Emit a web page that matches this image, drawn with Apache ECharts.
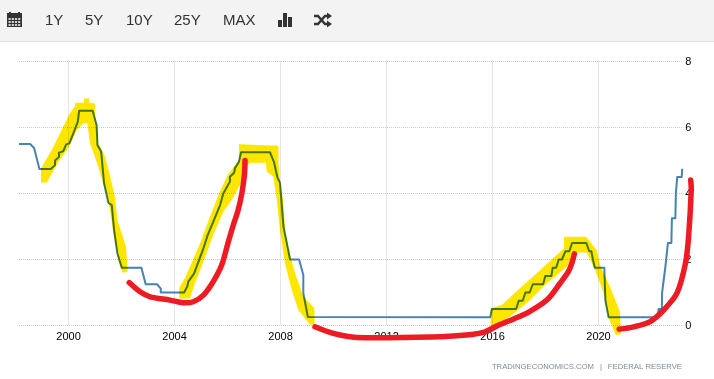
<!DOCTYPE html>
<html>
<head>
<meta charset="utf-8">
<style>html,body{margin:0;padding:0;background:#fff}#c{width:714px;height:379px}</style>
<script src="https://cdn.jsdelivr.net/npm/echarts@6/dist/echarts.min.js"></script>
</head>
<body>
<div id="c"></div>
<script>
const yearTicks = [2000, 2004, 2008, 2012, 2016, 2020];
const toolbarLabels = ['1Y', '5Y', '10Y', '25Y', 'MAX'];
const footerParts = ['TRADINGECONOMICS.COM', '|', 'FEDERAL RESERVE'];

const fedRate = [[1998.13,5.5],[1998.55,5.5],[1998.7,5.38],[1998.9,4.74],[1999.33,4.74],[1999.49,4.86],[1999.49,5],[1999.64,5.11],[1999.64,5.24],[1999.8,5.28],[1999.91,5.49],[2000.03,5.52],[2000.18,5.82],[2000.35,6.18],[2000.4,6.51],[2000.91,6.51],[2001.06,6.07],[2001.09,5.47],[2001.23,5.27],[2001.34,4.31],[2001.5,3.72],[2001.63,3.65],[2001.72,2.89],[2001.84,2.19],[2002.01,1.75],[2002.75,1.75],[2002.91,1.25],[2003.34,1.25],[2003.48,1.12],[2003.48,1],[2004.36,1],[2004.48,1.18],[2004.52,1.33],[2004.74,1.58],[2004.9,1.93],[2005.09,2.34],[2005.25,2.74],[2005.49,3.2],[2005.72,3.65],[2005.84,4],[2006.09,4.36],[2006.09,4.51],[2006.25,4.63],[2006.28,4.77],[2006.43,4.96],[2006.51,5.25],[2007.6,5.25],[2007.75,4.96],[2007.88,4.49],[2007.98,4.33],[2008.11,3],[2008.36,2],[2008.7,2],[2008.86,1.53],[2008.86,0.98],[2009.03,0.26],[2015.91,0.25],[2015.98,0.5],[2016.89,0.5],[2016.99,0.75],[2017.14,0.75],[2017.24,1],[2017.4,1],[2017.52,1.25],[2017.91,1.25],[2017.99,1.5],[2018.22,1.5],[2018.27,1.75],[2018.4,1.75],[2018.5,2],[2018.62,2],[2018.75,2.25],[2018.9,2.25],[2019,2.5],[2019.54,2.5],[2019.65,2.25],[2019.73,2.25],[2019.79,2],[2019.86,1.75],[2020.22,1.75],[2020.26,0.75],[2020.38,0.25],[2022.23,0.25],[2022.27,0.5],[2022.39,0.5],[2022.4,1],[2022.52,1.75],[2022.62,2.5],[2022.75,2.5],[2022.77,3.25],[2022.9,3.25],[2022.92,4],[2022.97,4.5],[2023.14,4.5],[2023.16,4.75]];

const yellowA = [[1998.96,4.33],[1998.96,4.76],[1999.43,5.42],[1999.75,5.95],[2000.03,6.4],[2000.25,6.65],[2000.25,6.75],[2000.58,6.75],[2000.58,6.88],[2000.78,6.88],[2000.78,6.75],[2001,6.73],[2001,6.33],[2001.1,5.98],[2001.12,5.52],[2001.38,5.12],[2001.57,4.51],[2001.75,3.9],[2001.84,3.2],[2001.97,2.89],[2002.17,2.39],[2002.23,1.63],[2002.03,1.6],[2001.88,1.98],[2001.69,2.79],[2001.57,3.5],[2001.38,4.11],[2001.12,4.81],[2000.81,5.52],[2000.71,6.13],[2000.56,6.13],[2000.31,5.92],[1999.99,5.37],[1999.62,4.96],[1999.18,4.33]];
const yellowB = [[2004.18,0.82],[2004.18,1.15],[2004.4,1.45],[2004.62,1.85],[2004.97,2.5],[2005.34,3.3],[2005.68,4],[2006,4.55],[2006.43,5.01],[2006.43,5.49],[2007.92,5.45],[2007.92,4.92],[2007.98,4.41],[2008.11,3.7],[2008.17,2.89],[2008.36,2.14],[2008.55,1.58],[2008.86,0.87],[2009.28,0.52],[2009.28,0.02],[2009.11,0.02],[2008.67,0.47],[2008.42,1.08],[2008.17,1.88],[2007.98,2.89],[2007.86,3.8],[2007.73,4.51],[2007.48,4.66],[2007.45,4.93],[2006.85,4.93],[2006.66,4.81],[2006.5,4.31],[2006.16,3.8],[2005.84,3.45],[2005.46,2.74],[2005.09,1.93],[2004.77,1.28],[2004.58,0.82]];
const yellowC = [[2015.93,-0.04],[2015.93,0.52],[2016.35,0.62],[2016.97,1.08],[2017.73,1.63],[2018.7,2.34],[2018.7,2.69],[2019.53,2.69],[2019.93,2.29],[2020.06,1.83],[2020.43,1.18],[2020.81,0.42],[2020.85,-0.26],[2020.66,-0.29],[2020.37,0.25],[2020.18,1.02],[2019.87,1.68],[2019.56,2.21],[2019.11,2.21],[2018.8,1.78],[2018.05,1.28],[2017.35,0.72],[2016.66,0.27],[2016.03,-0.04]];

const redA = [[2002.29,1.3],[2002.7,1.02],[2003.08,0.87],[2003.83,0.77],[2004.33,0.69],[2004.71,0.72],[2005.09,0.92],[2005.46,1.33],[2005.78,1.83],[2006,2.45],[2006.2,3],[2006.4,3.5],[2006.55,4.05],[2006.64,4.6],[2006.66,5]];
const redB = [[2009.3,-0.04],[2009.99,-0.24],[2010.88,-0.36],[2014.03,-0.34],[2015,-0.29],[2015.72,-0.19],[2016.2,0],[2016.8,0.2],[2017.35,0.4],[2018.05,0.77],[2018.55,1.28],[2018.86,1.63],[2019.01,1.93],[2019.09,2.17]];
const redC = [[2020.78,-0.11],[2021.33,-0.04],[2021.95,0.12],[2022.46,0.47],[2022.96,0.98],[2023.28,1.88],[2023.4,2.69],[2023.5,4.1],[2023.48,4.41]];

const YELLOW = '#ffe600', RED = '#ed1c24', BLUE = '#4682b4', ICON = '#333333';
const FONT = '"Liberation Sans", Arial, sans-serif';

const chart = echarts.init(document.getElementById('c'), null, {renderer: 'canvas'});

function redSeries(points) {
  return {
    type: 'custom', data: points, clip: false, z: 6, silent: true, encode: {x: 0, y: 1},
    renderItem(params, api) {
      if (params.dataIndex !== 0) return null;
      return {type: 'polyline',
        shape: {points: points.map(p => api.coord(p)), smooth: 0.3},
        style: {fill: null, stroke: RED, lineWidth: 5.5, lineCap: 'round', lineJoin: 'round'}};
    }
  };
}
function yellowSeries(points) {
  return {
    type: 'custom', data: points, clip: false, z: 4, silent: true, encode: {x: 0, y: 1},
    renderItem(params, api) {
      if (params.dataIndex !== 0) return null;
      return {type: 'polygon',
        shape: {points: points.map(p => api.coord(p))},
        style: {fill: YELLOW}};
    }
  };
}

const labelXs = [45, 85, 126, 174, 223];
const footerXs = [594, 601, 682];
const footerAligns = ['right', 'center', 'right'];
const toolbar = [
  {type: 'rect', shape: {x: 0, y: 0, width: 714, height: 41}, style: {fill: '#f3f3f3'}, silent: true},
  {type: 'rect', shape: {x: 0, y: 41, width: 714, height: 1}, style: {fill: '#e0e0e0'}, silent: true},
  ...toolbarLabels.map((t, i) => ({type: 'text', x: labelXs[i], y: 21,
    style: {text: t, fill: '#333', font: '15px ' + FONT, textAlign: 'left', textVerticalAlign: 'middle'}})),
  {type: 'rect', shape: {x: 7, y: 13, width: 15, height: 14}, style: {fill: ICON}},
  {type: 'rect', shape: {x: 9, y: 12, width: 2, height: 3}, style: {fill: ICON}},
  {type: 'rect', shape: {x: 18, y: 12, width: 2, height: 3}, style: {fill: ICON}},
  ...[0,1,2,3].flatMap(c => [0,1,2].map(r => ({type: 'rect',
    shape: {x: 8.5 + c * 3.2, y: 18 + r * 3, width: 2.2, height: 2}, style: {fill: '#cfcfcf'}}))),
  {type: 'rect', shape: {x: 278, y: 20, width: 4, height: 7}, style: {fill: ICON}},
  {type: 'rect', shape: {x: 283, y: 13, width: 4, height: 14}, style: {fill: ICON}},
  {type: 'rect', shape: {x: 288, y: 17, width: 4, height: 10}, style: {fill: ICON}},
  {type: 'polyline', shape: {points: [[314,16],[318,16],[325,24],[329,24]]}, style: {stroke: ICON, lineWidth: 2.4, fill: null}},
  {type: 'polyline', shape: {points: [[314,24],[318,24],[325,16],[329,16]]}, style: {stroke: ICON, lineWidth: 2.4, fill: null}},
  {type: 'polygon', shape: {points: [[327,12.5],[332,16],[327,19.5]]}, style: {fill: ICON}},
  {type: 'polygon', shape: {points: [[327,20.5],[332,24],[327,27.5]]}, style: {fill: ICON}},
  ...footerParts.map((t, i) => ({type: 'text', x: footerXs[i], y: 367,
    style: {text: t, fill: '#7d8b99', font: '7.7px ' + FONT, textAlign: footerAligns[i], textVerticalAlign: 'middle'}}))
];

chart.setOption({
  animation: false,
  backgroundColor: '#ffffff',
  grid: {left: 19, top: 61.5, width: 664.3, height: 264, containLabel: false},
  xAxis: {
    type: 'value', min: 1998.13, max: 2023.2,
    axisLine: {show: false},
    axisTick: {show: false, customValues: yearTicks},
    axisLabel: {customValues: yearTicks, formatter: v => String(Math.round(v)), color: '#000', fontFamily: FONT, fontSize: 11, margin: 6, hideOverlap: false},
    splitLine: {show: true, lineStyle: {color: '#cccccc', type: 'dotted', width: 1}}
  },
  yAxis: {
    type: 'value', position: 'right', min: 0, max: 8, interval: 2,
    axisLine: {show: false}, axisTick: {show: false},
    axisLabel: {color: '#000', fontFamily: FONT, fontSize: 11, margin: 2, showMinLabel: true, showMaxLabel: true},
    splitLine: {show: true, lineStyle: {color: '#cccccc', type: 'dotted', width: 1}}
  },
  series: [
    {type: 'line', data: fedRate, showSymbol: false, z: 3, silent: true, clip: false,
      lineStyle: {color: BLUE, width: 2, join: 'round'}},
    yellowSeries(yellowA), yellowSeries(yellowB), yellowSeries(yellowC),
    redSeries(redA), redSeries(redB), redSeries(redC)
  ],
  graphic: toolbar
});

// The highlighter band is translucent over the rate line: multiply turns blue to green.
const zr = chart.getZr();
zr.storage.getDisplayList(true).forEach(el => {
  if (el.style && el.style.fill === YELLOW) {
    el.style.blend = 'multiply';
    el.dirty();
  }
});
zr.refreshImmediately();
</script>
</body>
</html>
